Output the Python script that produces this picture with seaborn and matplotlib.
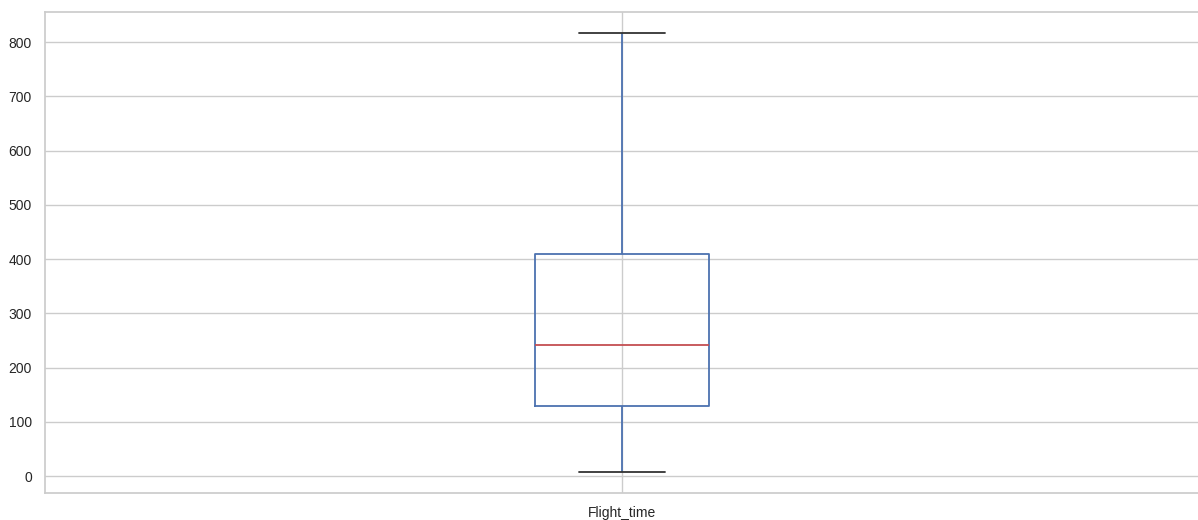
import matplotlib
matplotlib.use("Agg")
import matplotlib.pyplot as plt
import seaborn as sns
import pandas as pd

# Five-number summary
flight_time = [7, 129, 241, 409, 817]
column_name = "Flight_time"

sns.set_theme(style="whitegrid")
plt.rcParams['font.family'] = ['Liberation Sans', 'DejaVu Sans']

df = pd.DataFrame({column_name: flight_time})

fig = plt.figure(figsize=(11.98, 5.2), dpi=100)
ax = fig.add_axes([45/1198, 1 - 493/520, (1199-45)/1198, (493-12)/520])

blue = "#4C72B0"
red = "#C44E52"
sns.boxplot(data=df, ax=ax, width=0.15, fill=False, whis=1.5,
            boxprops=dict(color=blue, linewidth=1.3),
            whiskerprops=dict(color=blue, linewidth=1.3),
            capprops=dict(color="#333333", linewidth=1.3),
            medianprops=dict(color=red, linewidth=1.3),
            showfliers=False)

ax.set_xlim(-0.5, 0.5)
ax.set_ylim(-31.3, 855.3)
ax.set_yticks([0, 100, 200, 300, 400, 500, 600, 700, 800])
ax.xaxis.grid(True, color=".8")
ax.yaxis.grid(True, color=".8")
ax.set_axisbelow(True)
ax.tick_params(labelsize=10, colors="#262626")
ax.set_xlabel("")
ax.set_ylabel("")

fig.savefig("out.png", dpi=100)
